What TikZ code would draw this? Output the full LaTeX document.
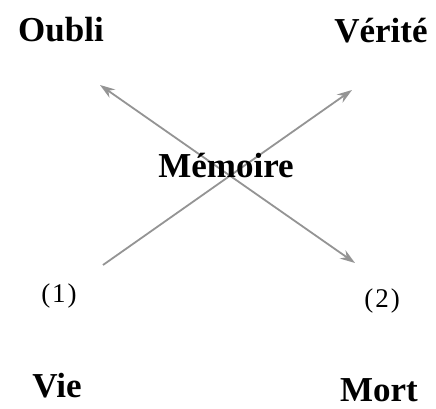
\documentclass[tikz,border=0pt]{standalone}
\usepackage{fontspec}
\setmainfont{Liberation Serif}
\usetikzlibrary{arrows.meta}
\begin{document}
\begin{tikzpicture}[x=1pt,y=1pt,
  lbl/.style={font=\fontsize{35}{40}\selectfont\bfseries, anchor=base, inner sep=0pt},
  num/.style={font=\fontsize{27}{32}\selectfont, anchor=base, inner sep=0pt},
  tip/.style={Stealth[length=15pt,width=10pt]},
  axis/.style={draw=black!42, line width=1.8pt}]
\useasboundingbox (0,0) rectangle (436,409);
\coordinate (a) at (103,144);
\coordinate (b) at (352,319);
\coordinate (c) at (100,324);
\coordinate (d) at (355,146);
\draw[axis, -{Stealth[length=15pt,width=10pt]}] (a) -- (b);
\draw[axis, {Stealth[length=15pt,width=10pt]}-{Stealth[length=15pt,width=10pt]}] (c) -- (d);
\node[lbl] (oubli) at (61,367) {Oubli};
\node[lbl] (verite) at (381,366) {Vérité};
\node[lbl] (memoire) at (226,231) {Mémoire};
\node[num] (one) at (59,106) {(\kern2pt1\kern2pt)};
\node[num] (two) at (382,101) {(\kern2pt2\kern2pt)};
\node[lbl] (vie) at (57,11) {Vie};
\node[lbl] (mort) at (379,7) {Mort};
\end{tikzpicture}
\end{document}
